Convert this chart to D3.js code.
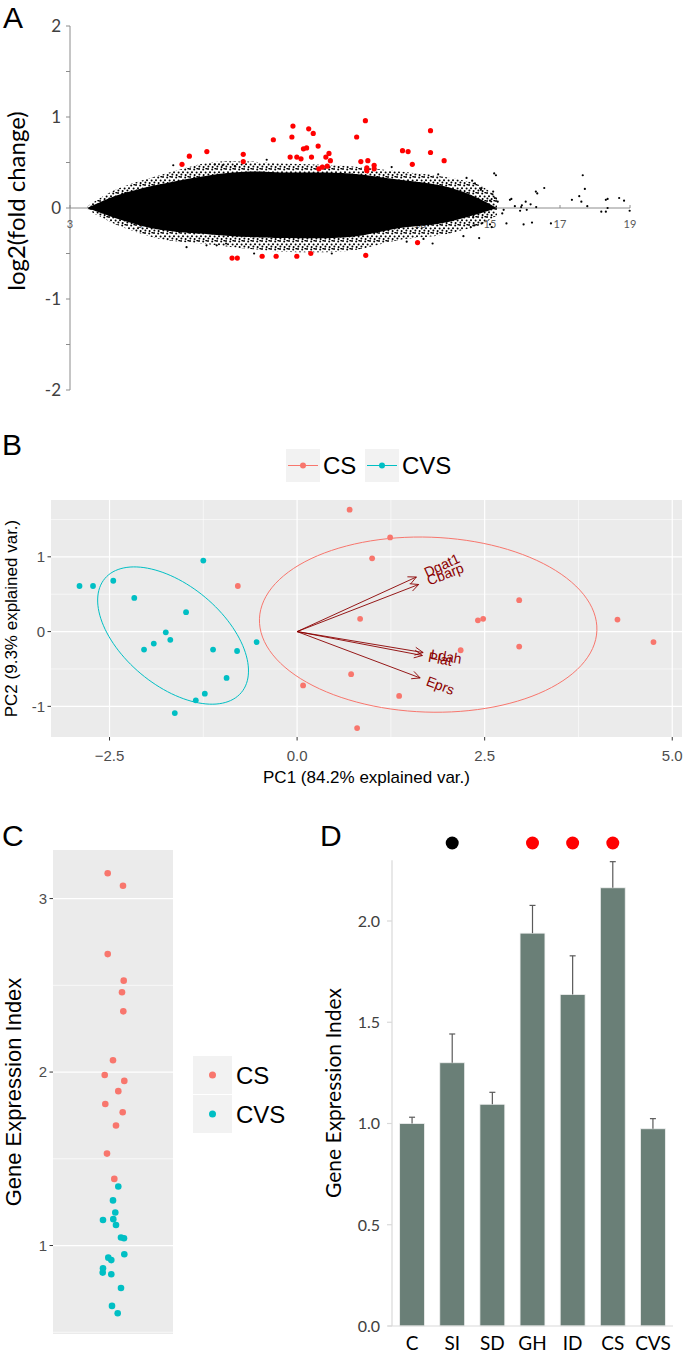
<!DOCTYPE html>
<html><head><meta charset="utf-8">
<script src="https://cdn.jsdelivr.net/npm/d3@7"></script>
<style>body{margin:0;background:#fff}svg{display:block}</style>
</head><body>
<svg id="fig" width="685" height="1354"></svg>
<script>
// ================= DATA =================
// Panel A : MA plot (A = mean log2 expression, M = log2 fold change)
const maTicksY = [-2, -1, 0, 1, 2];
const maTicksX = [3, 5, 7, 9, 11, 13, 15, 17, 19];
// envelope of the dense cloud of genes
const cloudA      = [3.5, 4.14, 4.71, 5.57, 7.0, 8.14, 9.09, 11.0, 12.43, 13.57, 14.14, 14.71, 15.2];
const coreUpper   = [0, 0.11, 0.18, 0.26, 0.36, 0.40, 0.39, 0.38, 0.31, 0.25, 0.19, 0.10, 0];
const coreLower   = [0, -0.09, -0.16, -0.24, -0.29, -0.32, -0.33, -0.32, -0.22, -0.17, -0.12, -0.06, 0];
const haloUpper   = [0.02, 0.17, 0.26, 0.36, 0.50, 0.51, 0.49, 0.46, 0.40, 0.35, 0.31, 0.25, 0.12];
const haloLower   = [-0.02, -0.15, -0.24, -0.34, -0.40, -0.45, -0.48, -0.47, -0.35, -0.30, -0.25, -0.19, -0.08];
// sparse (non significant) genes outside the dense cloud
const sparseGenes = [[15.12,0.38],[15.17,0.36],[16.55,0.22],[16.31,0.18],[16.35,0.16],[17.65,0.36],[17.71,0.21],[17.55,0.13],[17.34,0.09],[17.61,0.07],[17.78,0.02],[18.31,0.09],[18.36,0.10],[18.69,0.11],[18.83,0.08],[18.18,-0.04],[18.31,-0.04],[18.36,0.0],[18.99,-0.03],[15.57,0.09],[15.61,0.10],[15.71,0.02],[15.89,0.01],[15.91,0.03],[16.02,0.07],[16.05,-0.02],[16.16,0.04],[16.32,0.01],[15.86,-0.03],[15.47,-0.17],[15.96,-0.18],[16.2,-0.16],[16.74,-0.17],[15.0,-0.18],[15.05,-0.21],[14.69,-0.33],[14.24,-0.31],[15.35,-0.06],[15.39,-0.02],[15.09,0.18],[15.07,0.15],[15.22,0.07],[15.0,0.08],[15.14,0.11],[14.89,-0.01],[14.52,-0.10],[14.45,-0.21],[14.56,-0.19],[14.76,-0.17],[14.76,0.22],[14.74,0.20],[14.49,0.30],[14.57,0.27],[14.33,0.33],[6.33,-0.43],[6.9,-0.41],[7.19,-0.41],[7.46,-0.39],[5.95,0.47],[7.14,0.48],[7.36,0.47],[7.71,0.46],[8.26,-0.50],[10.48,-0.50],[12.62,-0.37],[13.36,-0.39],[13.1,-0.34],[8.62,0.53],[12.19,0.45],[13.52,0.37]];
// significant genes (red)
const sigUp = [[6.2,0.48],[6.41,0.57],[6.91,0.62],[7.95,0.59],[7.95,0.51],[8.81,0.75],[9.37,0.90],[9.34,0.78],[9.29,0.56],[9.48,0.56],[9.6,0.54],[9.67,0.65],[9.76,0.66],[9.82,0.87],[9.95,0.82],[10.09,0.68],[9.9,0.56],[10.31,0.56],[10.4,0.60],[10.44,0.52],[10.35,0.46],[10.21,0.45],[10.11,0.43],[11.44,0.96],[11.19,0.78],[11.31,0.51],[11.51,0.52],[11.69,0.47],[11.69,0.43],[11.48,0.44],[11.48,0.41],[12.5,0.63],[12.66,0.62],[12.78,0.48],[13.3,0.85],[13.3,0.61],[13.69,0.52]];
const sigDown = [[7.63,-0.55],[7.78,-0.55],[8.49,-0.53],[8.89,-0.53],[9.48,-0.53],[9.88,-0.50],[11.45,-0.52],[12.93,-0.38]];

// Panel B : PCA biplot
const pcGroups = ["CS", "CVS"];
const pcColors = ["#F8766D", "#00BFC4"];
const csPC  = [[-0.79,0.61],[0.08,-0.72],[0.70,1.63],[1.24,1.26],[1.00,0.98],[2.96,0.42],[0.84,0.17],[2.41,0.15],[2.48,0.17],[4.27,0.16],[4.75,-0.14],[2.18,-0.25],[2.96,-0.20],[0.72,-0.57],[1.36,-0.86],[0.80,-1.29]];
const cvsPC = [[-2.90,0.61],[-2.72,0.61],[-2.45,0.68],[-2.17,0.45],[-1.48,0.26],[-1.75,-0.01],[-1.69,-0.11],[-1.91,-0.16],[-2.04,-0.24],[-1.25,0.95],[-1.12,-0.24],[-0.80,-0.26],[-0.94,-0.62],[-1.23,-0.83],[-1.35,-0.92],[-1.63,-1.09],[-0.54,-0.14]];
// ellipse parameters per group: [centre x, centre y, semi-major, semi-minor, angle(deg)]
const csEllipse  = [1.747, 0.093, 2.25, 1.17, -2];
const cvsEllipse = [-1.653, -0.053, 1.187, 0.667, -40];
const loadNames = ["Dgat1", "Cbarp", "Ldah", "Plat", "Eprs"];
const loadX = [1.59, 1.62, 1.68, 1.67, 1.64];
const loadY = [0.73, 0.63, -0.28, -0.32, -0.62];
const pcTicksX = [-2.5, 0.0, 2.5, 5.0];
const pcTicksY = [-1, 0, 1];

// Panel C : gene expression index per sample
const csIndex   = [3.146,3.074,2.68,2.527,2.46,2.35,2.068,1.983,1.949,1.89,1.816,1.768,1.692,1.53,1.384];
const csJitter  = [-0.053,0.10,-0.053,0.107,0.09,0.103,0.0,-0.083,0.113,0.053,-0.077,0.097,0.03,-0.06,0.013];
const cvsIndex  = [1.34,1.26,1.19,1.147,1.152,1.118,1.046,1.042,0.95,0.93,0.916,0.869,0.844,0.834,0.755,0.652,0.61];
const cvsJitter = [0.053,0.0,0.023,-0.10,0.003,0.03,0.08,0.11,0.113,-0.047,-0.017,-0.10,-0.103,-0.017,0.08,-0.01,0.047];
const giTicks = [1, 2, 3];

// Panel D : mean gene expression index per condition
const conditions = ["C", "SI", "SD", "GH", "ID", "CS", "CVS"];
const meanIndex  = [1.0, 1.30, 1.095, 1.94, 1.637, 2.164, 0.974];
const seIndex    = [0.031, 0.142, 0.059, 0.137, 0.191, 0.129, 0.05];
const sigMarks   = ["SI", "GH", "ID", "CS"];
const sigMarkCol = ["#000000", "#FF0000", "#FF0000", "#FF0000"];
const barTicks   = [0, 0.5, 1.0, 1.5, 2.0];

// ================= DRAWING =================
const svg = d3.select("#fig");
const defs = svg.append("defs");
const GG = "'Liberation Sans', Arial, sans-serif";
const XL = "Lato, 'Open Sans', sans-serif";

function panelLabel(t, x, y) {
  svg.append("text").attr("x", x).attr("y", y).text(t)
    .attr("font-family", GG).attr("font-size", 30).attr("fill", "#000");
}

// ---------- Panel A ----------
{
  const xA = d3.scaleLinear().domain([3, 19]).range([70, 630]);
  const yA = d3.scaleLinear().domain([-2, 2]).range([390, 26]);
  const g = svg.append("g");
  panelLabel("A", 3, 28);
  const axCol = "#8c8c8c";
  g.append("line").attr("x1", xA(3)).attr("x2", xA(3)).attr("y1", yA(2)).attr("y2", yA(-2)).attr("stroke", axCol);
  g.selectAll(".ytA").data(d3.range(-2, 2.01, 0.5)).join("line")
    .attr("x1", xA(3) - 4).attr("x2", xA(3)).attr("y1", d => yA(d)).attr("y2", d => yA(d)).attr("stroke", axCol);
  g.selectAll(".ylA").data(maTicksY).join("text")
    .attr("x", xA(3) - 9).attr("y", d => yA(d)).attr("dy", "0.36em").attr("text-anchor", "end")
    .attr("font-family", XL).attr("font-size", 17).attr("fill", "#404040").text(d => d);
  g.append("line").attr("x1", xA(3)).attr("x2", xA(19)).attr("y1", yA(0)).attr("y2", yA(0)).attr("stroke", axCol);
  g.selectAll(".xtA").data(maTicksX).join("line")
    .attr("x1", d => xA(d)).attr("x2", d => xA(d)).attr("y1", yA(0) - 3).attr("y2", yA(0)).attr("stroke", axCol);
  g.selectAll(".xlA").data(maTicksX).join("text")
    .attr("x", d => xA(d)).attr("y", yA(0) + 20).attr("text-anchor", "middle")
    .attr("font-family", XL).attr("font-size", 11).attr("fill", "#595959").text(d => d);
  g.append("text").attr("transform", `translate(25,${yA(0) - 7}) rotate(-90)`).attr("text-anchor", "middle")
    .attr("font-family", XL).attr("font-size", 24).attr("fill", "#000").text("log2(fold change)");

  // irregular speckle used for the thinning edge of the point cloud
  const pat = defs.append("pattern").attr("id", "stip").attr("patternUnits", "userSpaceOnUse")
    .attr("width", 9).attr("height", 8);
  [[1,1],[5.2,1.6],[3,4.2],[7.6,4.6],[1.4,6.6],[5.6,7.1],[8.3,0.4]].forEach(p =>
    pat.append("circle").attr("cx", p[0]).attr("cy", p[1]).attr("r", 1).attr("fill", "#000"));
  const pts = cloudA.map((a, i) => ({a, cu: coreUpper[i], cl: coreLower[i], hu: haloUpper[i], hl: haloLower[i]}));
  g.append("path").datum(pts).attr("fill", "url(#stip)")
    .attr("d", d3.area().x(d => xA(d.a)).y0(d => yA(d.hl)).y1(d => yA(d.hu)).curve(d3.curveCatmullRom));
  g.append("path").datum(pts).attr("fill", "#000")
    .attr("d", d3.area().x(d => xA(d.a)).y0(d => yA(d.cl)).y1(d => yA(d.cu)).curve(d3.curveCatmullRom));
  g.selectAll(".spA").data(sparseGenes).join("circle")
    .attr("cx", d => xA(d[0])).attr("cy", d => yA(d[1])).attr("r", 1.1).attr("fill", "#000");
  g.selectAll(".sgA").data(sigUp.concat(sigDown)).join("circle")
    .attr("cx", d => xA(d[0])).attr("cy", d => yA(d[1])).attr("r", 2.6).attr("fill", "#FF0000");
}

// ---------- Panel B ----------
{
  const xB = d3.scaleLinear().domain([-3.28, 5.13]).range([51, 682]);
  const yB = d3.scaleLinear().domain([-1.41, 1.76]).range([737, 500]);
  const g = svg.append("g");
  panelLabel("B", 2, 455);
  g.append("rect").attr("x", xB(-3.28)).attr("y", yB(1.76)).attr("width", xB(5.13) - xB(-3.28))
    .attr("height", yB(-1.41) - yB(1.76)).attr("fill", "#EBEBEB");
  const minX = [-1.25, 1.25, 3.75], minY = [-0.5, 0.5, 1.5];
  g.selectAll(".mgx").data(minX).join("line").attr("x1", d => xB(d)).attr("x2", d => xB(d))
    .attr("y1", yB(1.76)).attr("y2", yB(-1.41)).attr("stroke", "#fff").attr("stroke-width", 0.6);
  g.selectAll(".mgy").data(minY).join("line").attr("y1", d => yB(d)).attr("y2", d => yB(d))
    .attr("x1", xB(-3.28)).attr("x2", xB(5.13)).attr("stroke", "#fff").attr("stroke-width", 0.6);
  g.selectAll(".Mgx").data(pcTicksX).join("line").attr("x1", d => xB(d)).attr("x2", d => xB(d))
    .attr("y1", yB(1.76)).attr("y2", yB(-1.41)).attr("stroke", "#fff").attr("stroke-width", 1.2);
  g.selectAll(".Mgy").data(pcTicksY).join("line").attr("y1", d => yB(d)).attr("y2", d => yB(d))
    .attr("x1", xB(-3.28)).attr("x2", xB(5.13)).attr("stroke", "#fff").attr("stroke-width", 1.2);
  g.selectAll(".txB").data(pcTicksX).join("line").attr("x1", d => xB(d)).attr("x2", d => xB(d))
    .attr("y1", 737).attr("y2", 740.5).attr("stroke", "#333");
  g.selectAll(".lxB").data(pcTicksX).join("text").attr("x", d => xB(d)).attr("y", 761)
    .attr("text-anchor", "middle").attr("font-family", GG).attr("font-size", 15).attr("fill", "#4D4D4D")
    .text(d => d3.format(".1f")(d));
  g.selectAll(".tyB").data(pcTicksY).join("line").attr("y1", d => yB(d)).attr("y2", d => yB(d))
    .attr("x1", 47.5).attr("x2", 51).attr("stroke", "#333");
  g.selectAll(".lyB").data(pcTicksY).join("text").attr("x", 45).attr("y", d => yB(d)).attr("dy", "0.36em")
    .attr("text-anchor", "end").attr("font-family", GG).attr("font-size", 15).attr("fill", "#4D4D4D").text(d => d);
  g.append("text").attr("x", (51 + 682) / 2).attr("y", 783).attr("text-anchor", "middle")
    .attr("font-family", GG).attr("font-size", 17).attr("fill", "#000").text("PC1 (84.2% explained var.)");
  g.append("text").attr("transform", `translate(17,${(500 + 737) / 2}) rotate(-90)`).attr("text-anchor", "middle")
    .attr("font-family", GG).attr("font-size", 17).attr("fill", "#000").text("PC2 (9.3% explained var.)");

  const ell = (p) => d3.range(0, 361, 3).map(t => {
    const r = t * Math.PI / 180, th = p[4] * Math.PI / 180;
    const ex = p[2] * Math.cos(r), ey = p[3] * Math.sin(r);
    return [p[0] + ex * Math.cos(th) - ey * Math.sin(th), p[1] + ex * Math.sin(th) + ey * Math.cos(th)];
  });
  const line = d3.line().x(d => xB(d[0])).y(d => yB(d[1]));
  [csEllipse, cvsEllipse].forEach((p, i) => {
    g.append("path").attr("d", line(ell(p))).attr("fill", "none").attr("stroke", pcColors[i]).attr("stroke-width", 1);
  });
  [csPC, cvsPC].forEach((arr, i) => {
    g.selectAll(".pB" + i).data(arr).join("circle").attr("cx", d => xB(d[0])).attr("cy", d => yB(d[1]))
      .attr("r", 2.9).attr("fill", pcColors[i]);
  });
  const dr = "#8B0000";
  loadNames.forEach((nm, i) => {
    const x0 = xB(0), y0 = yB(0), x1 = xB(loadX[i]), y1 = yB(loadY[i]);
    g.append("line").attr("x1", x0).attr("y1", y0).attr("x2", x1).attr("y2", y1).attr("stroke", dr).attr("stroke-width", 0.9);
    const a = Math.atan2(y1 - y0, x1 - x0), L = 9, s = 0.45;
    g.append("path").attr("d", `M${x1 - L * Math.cos(a - s)},${y1 - L * Math.sin(a - s)}L${x1},${y1}L${x1 - L * Math.cos(a + s)},${y1 - L * Math.sin(a + s)}`)
      .attr("fill", "none").attr("stroke", dr).attr("stroke-width", 0.9);
    const deg = Math.atan(loadY[i] / loadX[i]) * 180 / Math.PI;
    const t = g.append("text").attr("transform", `translate(${x1},${y1}) rotate(${-deg})`)
      .attr("dy", "0.35em").attr("font-family", GG).attr("font-size", 14).attr("fill", dr).text(nm);
    t.attr("dx", 0.25 * t.node().getComputedTextLength());
  });
  const keyX = [286, 365], txtX = [323, 402];
  pcGroups.forEach((nm, i) => {
    g.append("rect").attr("x", keyX[i]).attr("y", 449).attr("width", 34).attr("height", 33).attr("fill", "#F2F2F2");
    g.append("line").attr("x1", keyX[i] + 2).attr("x2", keyX[i] + 32).attr("y1", 465.5).attr("y2", 465.5)
      .attr("stroke", pcColors[i]).attr("stroke-width", 1);
    g.append("circle").attr("cx", keyX[i] + 17).attr("cy", 465.5).attr("r", 3).attr("fill", pcColors[i]);
    g.append("text").attr("x", txtX[i]).attr("y", 465.5).attr("dy", "0.36em").attr("font-family", GG)
      .attr("font-size", 24).attr("fill", "#000").text(nm);
  });
}

// ---------- Panel C ----------
{
  const xC = d3.scaleLinear().domain([0.4, 1.6]).range([53, 173]);
  const yC = d3.scaleLinear().domain([0.49, 3.28]).range([1334, 850]);
  const g = svg.append("g");
  panelLabel("C", 2, 846);
  g.append("rect").attr("x", xC(0.4)).attr("y", yC(3.28)).attr("width", xC(1.6) - xC(0.4))
    .attr("height", yC(0.49) - yC(3.28)).attr("fill", "#EBEBEB");
  g.selectAll(".mgC").data([0.5, 1.5, 2.5]).join("line").attr("y1", d => yC(d)).attr("y2", d => yC(d))
    .attr("x1", xC(0.4)).attr("x2", xC(1.6)).attr("stroke", "#fff").attr("stroke-width", 0.7);
  g.selectAll(".MgC").data(giTicks).join("line").attr("y1", d => yC(d)).attr("y2", d => yC(d))
    .attr("x1", xC(0.4)).attr("x2", xC(1.6)).attr("stroke", "#fff").attr("stroke-width", 1.3);
  g.selectAll(".tC").data(giTicks).join("line").attr("y1", d => yC(d)).attr("y2", d => yC(d))
    .attr("x1", 49.5).attr("x2", 53).attr("stroke", "#333");
  g.selectAll(".lC").data(giTicks).join("text").attr("x", 47).attr("y", d => yC(d)).attr("dy", "0.36em")
    .attr("text-anchor", "end").attr("font-family", GG).attr("font-size", 15).attr("fill", "#4D4D4D").text(d => d);
  g.append("text").attr("transform", `translate(21,${(850 + 1334) / 2}) rotate(-90)`).attr("text-anchor", "middle")
    .attr("font-family", GG).attr("font-size", 22).attr("fill", "#000").text("Gene Expression Index");
  g.selectAll(".pC0").data(csIndex).join("circle").attr("cx", (d, i) => xC(1 + csJitter[i])).attr("cy", d => yC(d))
    .attr("r", 3.3).attr("fill", pcColors[0]);
  g.selectAll(".pC1").data(cvsIndex).join("circle").attr("cx", (d, i) => xC(1 + cvsJitter[i])).attr("cy", d => yC(d))
    .attr("r", 3.3).attr("fill", pcColors[1]);
  pcGroups.forEach((nm, i) => {
    const y0 = 1056 + i * 39;
    g.append("rect").attr("x", 193).attr("y", y0).attr("width", 39).attr("height", 38).attr("fill", "#F2F2F2");
    g.append("circle").attr("cx", 212.5).attr("cy", y0 + 19).attr("r", 3.5).attr("fill", pcColors[i]);
    g.append("text").attr("x", 236).attr("y", y0 + 19).attr("dy", "0.36em").attr("font-family", GG)
      .attr("font-size", 24).attr("fill", "#000").text(nm);
  });
}

// ---------- Panel D ----------
{
  const xD = d3.scaleBand().domain(conditions).range([392, 673]).paddingInner(0.38).paddingOuter(0.19);
  const yD = d3.scaleLinear().domain([0, 2.3]).range([1326, 860.25]);
  const g = svg.append("g");
  panelLabel("D", 320, 846);
  const axCol = "#d9d9d9";
  g.append("line").attr("x1", 392).attr("x2", 392).attr("y1", yD(2.3)).attr("y2", yD(0)).attr("stroke", axCol).attr("stroke-width", 1.2);
  g.selectAll(".tD").data(barTicks).join("line").attr("y1", d => yD(d)).attr("y2", d => yD(d))
    .attr("x1", 387).attr("x2", 392).attr("stroke", axCol).attr("stroke-width", 1.2);
  g.selectAll(".lD").data(barTicks).join("text").attr("x", 380).attr("y", d => yD(d)).attr("dy", "0.36em")
    .attr("text-anchor", "end").attr("font-family", XL).attr("font-size", 16).attr("fill", "#404040")
    .text(d => d3.format(".1f")(d));
  g.append("text").attr("transform", `translate(341,${(860 + 1326) / 2}) rotate(-90)`).attr("text-anchor", "middle")
    .attr("font-family", XL).attr("font-size", 21).attr("fill", "#000").text("Gene Expression Index");
  g.selectAll(".bD").data(conditions).join("rect")
    .attr("x", d => xD(d)).attr("width", xD.bandwidth())
    .attr("y", (d, i) => yD(meanIndex[i])).attr("height", (d, i) => yD(0) - yD(meanIndex[i]))
    .attr("fill", "#6A7F77").attr("stroke", "#f0f0f0").attr("stroke-width", 0.8);
  const ec = "#5a5a5a";
  conditions.forEach((c, i) => {
    const cx = xD(c) + xD.bandwidth() / 2;
    g.append("line").attr("x1", cx).attr("x2", cx).attr("y1", yD(meanIndex[i])).attr("y2", yD(meanIndex[i] + seIndex[i]))
      .attr("stroke", ec).attr("stroke-width", 1.2);
    g.append("line").attr("x1", cx - 3).attr("x2", cx + 3).attr("y1", yD(meanIndex[i] + seIndex[i])).attr("y2", yD(meanIndex[i] + seIndex[i]))
      .attr("stroke", ec).attr("stroke-width", 1.2);
  });
  g.append("line").attr("x1", 388).attr("x2", 673).attr("y1", yD(0)).attr("y2", yD(0)).attr("stroke", axCol).attr("stroke-width", 1.2);
  g.selectAll(".xlD").data(conditions).join("text").attr("x", d => xD(d) + xD.bandwidth() / 2).attr("y", 1350)
    .attr("text-anchor", "middle").attr("font-family", XL).attr("font-size", 19).attr("fill", "#000").text(d => d);
  g.selectAll(".sD").data(sigMarks).join("circle").attr("cx", d => xD(d) + xD.bandwidth() / 2).attr("cy", 843)
    .attr("r", 6.5).attr("fill", (d, i) => sigMarkCol[i]);
}
</script>
</body></html>
